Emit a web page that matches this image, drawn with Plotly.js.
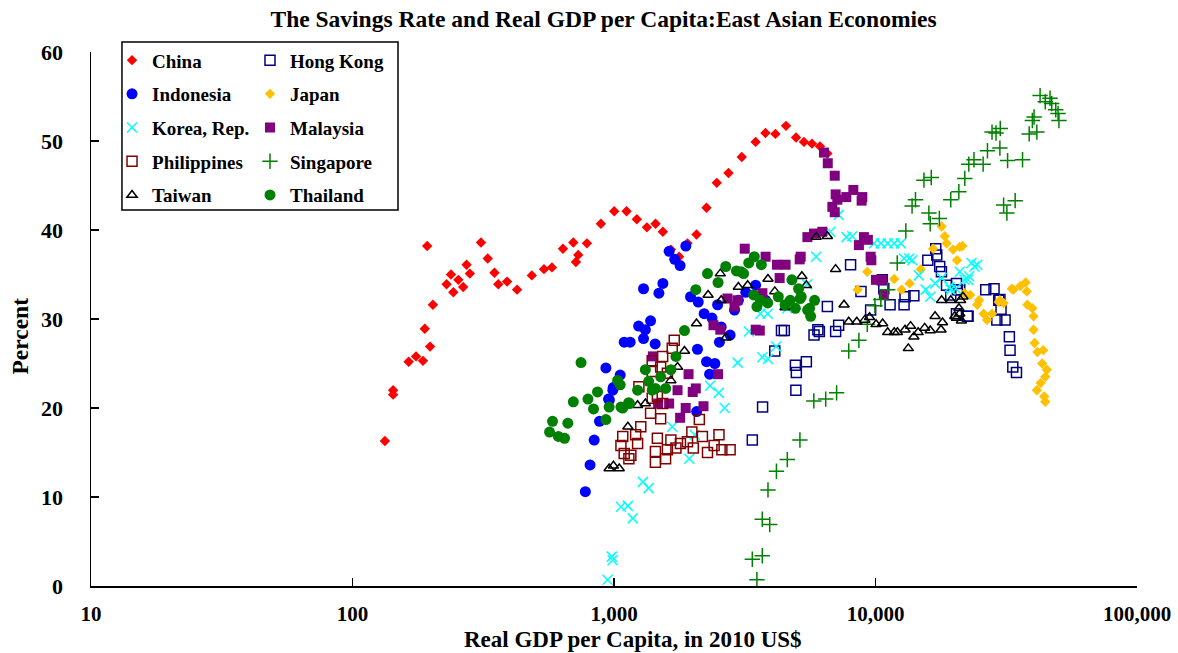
<!DOCTYPE html>
<html>
<head>
<meta charset="utf-8">
<script src="https://cdn.plot.ly/plotly-3.0.1.min.js"></script>
<style>html,body{margin:0;padding:0;background:#fff;}#chart{width:1178px;height:653px;}</style>
</head>
<body>
<div id="chart"></div>
<script>
// ---- Data (real GDP per capita, 2010 US$ ; savings rate, percent) ----
const chinaGdp = [133,143,143,164,175,186,189,193,198,203,229,238,243,254,265,273,281,310,329,349,361,390,426,485,540,579,638,699,715,730,788,891,1002,1117,1223,1336,1442,1538,1650,1774,1910,2068,2258,2472,2740,3080,3480,3794,4143,4548,4966,5327,5716,6133,6545];
const chinaSav = [16.3,22.0,21.5,25.2,25.8,25.3,28.9,38.2,26.9,31.6,33.9,35.0,33.0,34.4,33.6,36.1,35.1,38.6,36.8,35.2,33.9,34.2,33.3,34.9,35.6,35.8,37.9,38.6,36.4,37.2,38.5,40.7,42.1,42.1,41.2,40.3,40.7,39.8,37.8,37.0,38.5,39.5,42.5,45.3,46.4,48.2,49.9,50.9,50.8,51.7,50.4,49.9,49.7,49.4,48.6];

const hongKongGdp = [3380,3700,4960,4370,4120,4940,5440,4980,5820,6020,8030,6545,4480,6100,7040,7230,8800,9580,10620,10760,11370,12860,12970,14020,15850,17000,17150,17600,17870,18690,20400,20570,21000,19400,22450,20400,22600,26400,28400,29600,29100,31300,32500,32700,33500,34600,29900,30200];
const hongKongSav = [16.4,20.1,22.0,28.7,26.4,24.8,25.2,24.0,28.2,28.8,36.1,31.4,28.7,28.6,28.6,29.3,33.1,31.0,34.4,33.4,31.6,31.6,32.5,32.6,36.6,37.9,37.2,35.9,35.3,33.8,34.0,33.3,33.3,32.7,30.3,30.6,30.3,33.3,33.4,32.1,29.9,29.9,28.0,26.5,24.6,24.0,32.2,31.1];

const indonesiaGdp = [777,810,840,880,931,953,960,990,993,1056,1094,1153,1242,1297,1297,1318,1380,1437,1485,1538,1625,1707,1790,1882,1962,2100,2212,2085,2070,2258,2430,2320,2490,2890,2370,2570,2780,2530,3480,3190,3800,2990];
const indonesiaSav = [10.6,13.6,16.4,18.5,24.5,21.0,20.9,22.0,22.3,23.7,27.4,27.4,29.2,33.4,27.8,28.8,29.8,27.2,32.9,34.0,37.6,36.7,36.0,38.2,32.5,31.9,30.6,26.6,19.6,25.2,25.0,23.8,31.6,31.0,30.1,29.1,28.2,27.4,33.8,33.0,32.1,32.1];

const japanGdp = [8540,9300,11790,12580,13500,14900,16600,17900,18400,18690,19800,21000,20500,21500,21900,23000,24500,24900,25900,26700,27900,29600,30900,29900,33200,33700,35800,37500,37900,38100,39800,40200,40200,40600,41600,43800,43400,45200,44600,42800,41400,44200,44600];
const japanSav = [33.3,35.3,34.5,33.3,34.0,35.6,37.9,40.4,39.3,38.5,37.8,38.1,36.6,38.2,32.9,32.7,31.6,32.1,30.6,29.9,30.6,31.9,31.8,32.1,33.4,33.3,33.7,34.1,33.1,31.6,31.2,30.3,28.8,27.3,26.3,26.5,25.0,24.3,23.5,22.8,22.0,21.3,20.7];

const koreaGdp = [945,981,988,1063,1130,1180,1290,1357,1670,1940,2035,2330,2515,2650,2970,3280,3630,3690,3870,3880,4170,4600,5480,5930,6720,7230,7740,8150,9870,10480,11130,11800,12500,12860,13460,13830,14650,15550,16190,16900,17900,19200,19400,20300,21000,21900,22600,22800,23300,23900,24500];
const koreaSav = [0.7,3.3,2.9,8.9,9.0,7.6,11.7,11.0,17.9,14.3,17.0,22.5,21.7,20.0,25.1,28.6,30.6,25.7,30.6,25.5,26.9,31.2,33.9,37.0,39.8,41.7,39.2,39.3,38.5,38.5,38.5,38.5,38.5,36.8,36.8,36.6,34.9,33.3,32.5,34.0,34.6,33.6,33.3,33.4,35.3,34.4,34.4,34.8,36.3,35.9,36.1];

const malaysiaGdp = [1408,1475,1625,1750,1790,1880,1928,2000,2055,2199,2401,2500,2550,2716,2890,2966,3162,3483,3610,3695,3800,4200,4300,4530,5130,5175,5490,5817,6263,6352,6568,6985,7040,7145,6839,6985,7735,8227,8850,8905,8642,9030,9350,9579,9640,10040,10620,10760];
const malaysiaSav = [25.8,20.5,20.5,22.0,18.9,20.0,23.8,21.8,22.2,20.2,29.3,23.8,28.8,32.3,31.4,32.1,37.9,28.8,28.7,32.9,37.0,36.1,34.6,36.1,36.7,37.0,39.2,39.6,39.8,48.7,47.5,46.1,44.0,43.4,42.6,42.0,43.7,44.5,43.3,43.7,38.3,39.2,38.9,37.0,36.6,34.4,34.4,32.7];

const philippinesGdp = [1063,1080,1094,1140,1160,1210,1231,1245,1266,1380,1400,1400,1400,1440,1440,1465,1465,1508,1508,1535,1535,1575,1600,1600,1650,1670,1700,1725,1795,1910,1985,2010,2120,2178,2278,2415,2520,2585,2780];
const philippinesSav = [15.8,16.8,14.9,14.3,14.7,17.0,16.0,22.4,17.9,19.4,21.1,25.3,24.1,15.1,13.9,16.6,21.3,18.8,24.6,20.5,25.8,14.3,15.3,23.9,16.4,26.7,27.6,15.5,16.0,16.2,17.3,15.5,18.7,16.8,15.0,15.8,17.0,15.3,15.3];

const singaporeGdp = [3380,3520,3690,3690,3940,3880,4180,4600,5140,5810,6450,7100,7900,8640,9300,9950,10480,11130,12110,13060,13800,14220,15320,16340,16000,16190,17550,19400,20830,21950,22740,23800,25800,26800,29900,27900,28900,30000,32000,36500,34200,30900,31800,38700,41400,39800,40400,42600,44600,46500,47200,48900,49900,50300];
const singaporeSav = [3.0,0.7,3.4,7.5,6.9,10.8,12.9,14.2,16.4,20.8,21.0,21.7,26.4,27.6,29.4,31.5,32.2,33.3,36.3,39.9,42.7,43.4,45.6,45.9,41.9,40.7,41.3,43.4,44.3,45.8,47.4,47.9,47.4,48.9,49.2,51.0,50.9,51.4,47.8,47.9,43.3,42.8,41.9,50.8,51.0,52.3,52.7,55.1,54.4,54.8,54.2,53.5,53.1,52.3];

const taiwanGdp = [958,995,1047,1130,1231,1318,1650,1750,1860,2068,2290,2550,2570,2675,2990,3245,3880,4120,4510,5230,5440,5930,6545,7040,7580,7900,8480,9100,9490,10050,10650,11130,11790,12130,12970,13350,13620,14020,14560,15420,16190,16900,17800,17900,18040,19400,20100,20400,20850,21000,21150,21300,21600];
const taiwanSav = [13.2,13.5,13.2,17.9,20.3,20.5,23.1,24.6,26.4,29.5,32.7,35.1,32.1,27.9,33.6,33.8,34.5,33.1,31.3,34.8,33.8,39.2,39.3,35.6,31.6,29.7,29.7,29.9,30.2,29.4,29.5,28.5,28.5,28.5,28.8,26.7,29.2,28.0,28.5,29.0,28.7,30.3,28.8,32.1,29.6,32.1,30.3,30.1,31.2,30.6,32.1,29.8,32.5];

const thailandGdp = [567,582,613,647,666,699,748,795,835,865,931,958,1032,1056,1063,1080,1138,1147,1231,1318,1357,1400,1440,1508,1576,1650,1725,1860,2055,2278,2500,2675,2940,3065,3130,3275,3420,3440,3520,3630,3660,3870,4250,4510,4720,4790,4940,5080,5150,5200,5500,5600,5650,5850];
const thailandSav = [17.3,18.5,16.8,16.6,18.3,20.7,25.1,21.0,19.9,21.8,18.7,20.1,23.1,22.6,20.1,20.0,20.6,20.5,22.0,24.3,23.0,22.0,22.2,23.5,22.2,24.3,25.8,28.7,33.3,35.1,34.1,35.9,35.4,35.3,35.1,36.3,32.7,37.0,31.4,32.1,36.1,31.8,32.5,31.6,32.1,34.4,31.2,33.4,32.3,32.5,31.0,31.2,30.3,32.1];

const xTickVals = [10, 100, 1000, 10000, 100000];
const xTickText = ['10', '100', '1,000', '10,000', '100,000'];

// ---- Chart ----
const FONT = 'Liberation Serif, Times New Roman, serif';

function series(name, x, y, symbol, color, size, legend, open) {
  return {
    type: 'scatter', mode: 'markers', name: name, x: x, y: y,
    legend: legend, legendgroup: name,
    marker: { symbol: symbol, size: size, color: color,
      line: { color: color, width: open ? 1.5 : 0 } },
    hoverinfo: 'name+x+y'
  };
}

const data = [
  series('China', chinaGdp, chinaSav, 'diamond', '#FF0000', 8, 'legend', false),
  series('Hong Kong', hongKongGdp, hongKongSav, 'square-open', '#000080', 10, 'legend2', true),
  series('Indonesia', indonesiaGdp, indonesiaSav, 'circle', '#0000FF', 11, 'legend', false),
  series('Japan', japanGdp, japanSav, 'diamond', '#FFC000', 8, 'legend2', false),
  series('Korea, Rep.', koreaGdp, koreaSav, 'x-thin-open', '#00FFFF', 10, 'legend', true),
  series('Malaysia', malaysiaGdp, malaysiaSav, 'square', '#800080', 10, 'legend2', false),
  series('Philippines', philippinesGdp, philippinesSav, 'square-open', '#800000', 10, 'legend', true),
  series('Singapore', singaporeGdp, singaporeSav, 'cross-thin-open', '#008000', 11, 'legend2', true),
  series('Taiwan', taiwanGdp, taiwanSav, 'triangle-up-open', '#000000', 9, 'legend', true),
  series('Thailand', thailandGdp, thailandSav, 'circle', '#008000', 11, 'legend2', false)
];

const legendCommon = {
  orientation: 'v', yanchor: 'top', xanchor: 'left', y: 1.02,
  bgcolor: 'rgba(0,0,0,0)', borderwidth: 0,
  font: { family: FONT, size: 19, color: '#000', weight: 'bold' },
  tracegroupgap: 6, itemwidth: 30, itemclick: false, itemdoubleclick: false
};

const layout = {
  width: 1178, height: 653,
  margin: { l: 91, r: 41, t: 52, b: 67 },
  paper_bgcolor: '#ffffff', plot_bgcolor: '#ffffff',
  font: { family: FONT, color: '#000' },
  title: {
    text: 'The Savings Rate and Real GDP per Capita:East Asian Economies',
    font: { family: FONT, size: 23.5, color: '#000', weight: 'bold' },
    xref: 'paper', x: 0.49, xanchor: 'center',
    yref: 'container', y: 0.972, yanchor: 'middle'
  },
  xaxis: {
    type: 'log', range: [1, 5],
    tickmode: 'array', tickvals: xTickVals, ticktext: xTickText,
    ticks: 'inside', ticklen: 8, tickwidth: 1.5, tickcolor: '#000',
    showline: true, linecolor: '#000', linewidth: 1.5,
    showgrid: false, zeroline: false, mirror: false,
    tickfont: { family: FONT, size: 21, color: '#000', weight: 'bold' },
    ticklabelstandoff: 8
  },
  yaxis: {
    range: [0, 60], tickmode: 'linear', tick0: 0, dtick: 10,
    ticks: 'inside', ticklen: 8, tickwidth: 1.5, tickcolor: '#000',
    showline: true, linecolor: '#000', linewidth: 1.5,
    showgrid: false, zeroline: false, mirror: false,
    tickfont: { family: FONT, size: 22, color: '#000', weight: 'bold' },
    ticklabelstandoff: 22
  },
  annotations: [
    {
      text: 'Percent', textangle: -90, showarrow: false,
      xref: 'paper', yref: 'paper', x: -0.0679, y: 0.469,
      xanchor: 'center', yanchor: 'middle',
      font: { family: FONT, size: 23.5, color: '#000', weight: 'bold' }
    },
    {
      text: 'Real GDP per Capita, in 2010 US$', showarrow: false,
      xref: 'paper', yref: 'paper', x: 0.518, y: -0.1,
      xanchor: 'center', yanchor: 'middle',
      font: { family: FONT, size: 23, color: '#000', weight: 'bold' }
    }
  ],
  legend: Object.assign({}, legendCommon, { x: 0.0201 }),
  legend2: Object.assign({}, legendCommon, { x: 0.152 }),
  shapes: [{
    type: 'rect', xref: 'paper', yref: 'paper',
    x0: 0.0296, x1: 0.2935, y0: 0.704, y1: 1.0187,
    line: { color: '#000', width: 1.5 }, fillcolor: 'rgba(0,0,0,0)', layer: 'above'
  }],
  showlegend: true
};

Plotly.newPlot('chart', data, layout, { displayModeBar: false, staticPlot: true });
</script>
</body>
</html>
